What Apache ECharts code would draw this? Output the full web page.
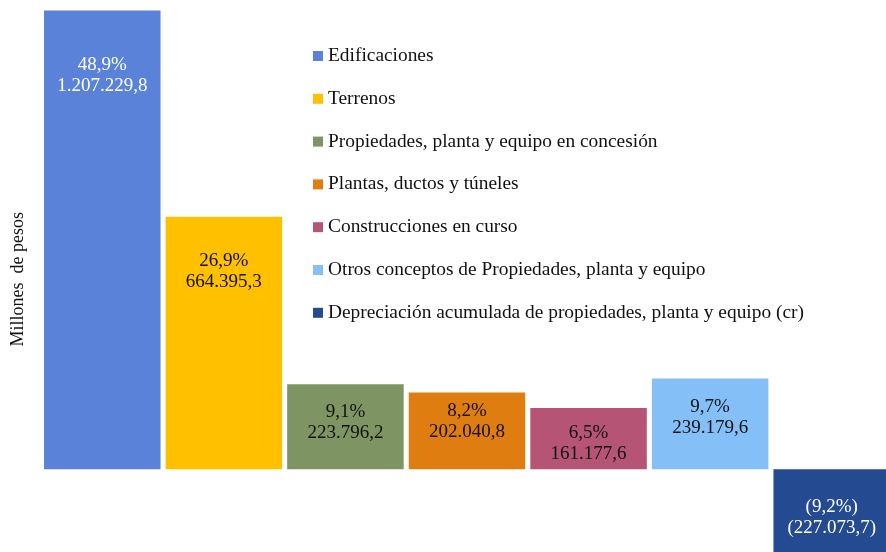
<!doctype html>
<html>
<head>
    <meta http-equiv="Content-Type" content="text/html; charset=utf-8">
    <title>Propiedades, planta y equipo</title>
    <script src="https://cdn.jsdelivr.net/npm/echarts@6/dist/echarts.min.js"></script>
    <style>
        html, body { margin: 0; padding: 0; background: #fff; }
        #chart { width: 886px; height: 552px; }
    </style>
</head>
<body>
<div id="chart"></div>
<script type="text/javascript">

    var categories = [
        'Edificaciones',
        'Terrenos',
        'Propiedades, planta y equipo en concesión',
        'Plantas, ductos y túneles',
        'Construcciones en curso',
        'Otros conceptos de Propiedades, planta y equipo',
        'Depreciación acumulada de propiedades, planta y equipo (cr)'
    ];
    var values = [1207229.8, 664395.3, 223796.2, 202040.8, 161177.6, 239179.6, -227073.7];
    var percents = [48.9, 26.9, 9.1, 8.2, 6.5, 9.7, -9.2];
    var colors = ['#5A82D8', '#FFC000', '#7E9463', '#DF7D10', '#B55474', '#85BFF8', '#244A91'];

    // posicion de las etiquetas de cada barra
    var labelPos = [
        { position: 'insideTop', distance: 44, color: '#ffffff' },
        { position: 'insideTop', distance: 34, color: '#111111' },
        { position: 'inside', offset: [0, -4], color: '#111111' },
        { position: 'inside', offset: [0, -9], color: '#111111' },
        { position: 'inside', offset: [0, 5], color: '#111111' },
        { position: 'inside', offset: [0, -6], color: '#111111' },
        { position: 'inside', offset: [0, 5], color: '#ffffff' }
    ];

    var serif = 'Liberation Serif';

    function fmt(v) {
        var s = Math.abs(v).toFixed(1).split('.');
        var ent = s[0].replace(/\B(?=(\d{3})+(?!\d))/g, '.');
        var txt = ent + ',' + s[1];
        return v < 0 ? '(' + txt + ')' : txt;
    }

    var series = [];
    for (var i = 0; i < categories.length; i++) {
        var data = [];
        for (var j = 0; j < categories.length; j++) {
            data.push(j === i ? values[i] : '-');
        }
        var lp = labelPos[i];
        series.push({
            name: categories[i],
            type: 'bar',
            stack: 'total',
            barWidth: 116.5,
            data: data,
            itemStyle: { color: colors[i] },
            label: {
                show: true,
                position: lp.position,
                distance: lp.distance,
                offset: lp.offset,
                color: lp.color,
                fontFamily: serif,
                fontSize: 19,
                lineHeight: 21,
                align: 'center',
                formatter: (function (k) {
                    return function () {
                        var p = Math.abs(percents[k]).toFixed(1).replace('.', ',') + '%';
                        if (percents[k] < 0) p = '(' + p + ')';
                        return p + '\n' + fmt(values[k]);
                    };
                })(i)
            }
        });
    }

    var myChart = echarts.init(document.getElementById('chart'));
    var option = {
        backgroundColor: '#ffffff',
        animation: false,
        grid: { left: 41.5, right: -6.5, top: -5.7, bottom: -12.3, outerBoundsMode: 'none', containLabel: false },
        legend: {
            orient: 'vertical',
            left: 313,
            top: 46,
            padding: 0,
            icon: 'rect',
            itemWidth: 10,
            itemHeight: 10,
            itemGap: 22.8,
            textStyle: { fontFamily: serif, fontSize: 19.4, color: '#111111', lineHeight: 20 },
            data: categories
        },
        xAxis: {
            type: 'category',
            data: categories,
            show: false
        },
        yAxis: {
            type: 'value',
            min: -250000,
            max: 1250000,
            name: 'Millones  de pesos',
            nameLocation: 'middle',
            nameGap: 14.5,
            nameTextStyle: { fontFamily: serif, fontSize: 18, color: '#111111' },
            axisLine: { show: false },
            axisTick: { show: false },
            axisLabel: { show: false },
            splitLine: { show: false }
        },
        series: series
    };
    myChart.setOption(option);

</script>
</body>
</html>
